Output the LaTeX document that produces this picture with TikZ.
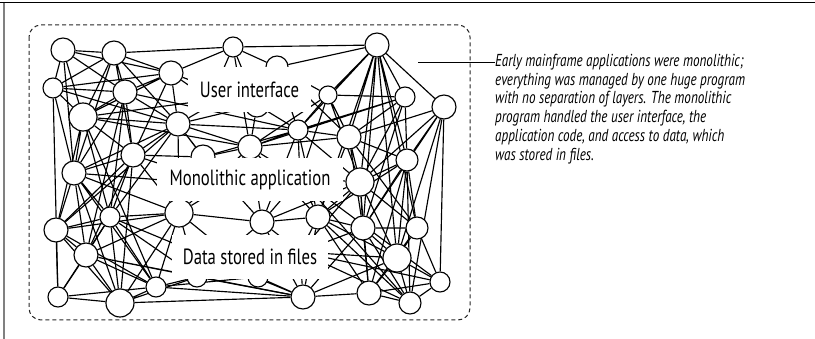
\documentclass[tikz,border=0pt]{standalone}
\usepackage{fontspec}
\setmainfont{PT Sans}
\newfontfamily\condfont{PT Sans}[FakeStretch=0.76]
\usetikzlibrary{positioning}
\pgfdeclarelayer{bg}
\pgfsetlayers{bg,main}

\begin{document}
\begin{tikzpicture}[x=1pt, y=-1pt,
    dot/.style={circle, draw, fill=white, line width=1.15pt, inner sep=0pt, minimum size=#1},
    link/.style={line width=1.15pt},
    layerbox/.style={fill=white, inner sep=0pt, font=\condfont\fontsize{22}{24}\selectfont},
    note/.style={inner sep=0pt, align=left, font=\condfont\itshape\fontsize{17.3}{18.7}\selectfont}
  ]
  \useasboundingbox (0,0) rectangle (815,339);
  % frame
  \draw[line width=1pt] (0,3) -- (815,3);
  \draw[gray, line width=1.5pt] (4,3) -- (4,339);
  % dashed outline round the program
  \draw[dash pattern=on 4pt off 3pt, line width=1pt, black!85, rounded corners=12pt] (29,25) rectangle (470,320);
  % top row
  \node[dot=24pt] (n1) at (63,50) {};
  \node[dot=24pt] (n2) at (114,53) {};
  \node[dot=20pt] (n3) at (233,47) {};
  \node[dot=24pt] (n4) at (377,45) {};
  \node[dot=24pt] (n5) at (171,73) {};
  \node[dot=20pt] (n6) at (53,88) {};
  \node[dot=24pt] (n7) at (125,92) {};
  \node[dot=28pt] (n8) at (83,117) {};
  \node[dot=24pt] (n9) at (178,124) {};
  \node[dot=22pt] (n10) at (277,67) {};
  \node[dot=18pt] (n11) at (328,95) {};
  \node[dot=20pt] (n12) at (405,97) {};
  \node[dot=20pt] (n13) at (298,130) {};
  \node[dot=24pt] (n14) at (349,137) {};
  \node[dot=24pt] (n15) at (444,107) {};
  % middle
  \node[dot=24pt] (n16) at (250,147) {};
  \node[dot=24pt] (n17) at (203,157) {};
  \node[dot=24pt] (n18) at (133,155) {};
  \node[dot=22pt] (n19) at (407,160) {};
  \node[dot=24pt] (n20) at (74,173) {};
  \node[dot=28pt] (n21) at (360,182) {};
  \node[dot=20pt] (n22) at (110,217) {};
  \node[dot=28pt] (n23) at (179,213) {};
  \node[dot=24pt] (n24) at (262,222) {};
  \node[dot=24pt] (n25) at (318,217) {};
  \node[dot=24pt] (n26) at (56,230) {};
  \node[dot=24pt] (n27) at (363,228) {};
  \node[dot=22pt] (n28) at (417,228) {};
  % bottom
  \node[dot=24pt] (n29) at (86,255) {};
  \node[dot=28pt] (n30) at (397,258) {};
  \node[dot=20pt] (n31) at (58,297) {};
  \node[dot=28pt] (n32) at (120,303) {};
  \node[dot=20pt] (n33) at (156,287) {};
  \node[dot=24pt] (n34) at (303,297) {};
  \node[dot=24pt] (n35) at (369,293) {};
  \node[dot=22pt] (n36) at (410,303) {};
  \node[dot=20pt] (n37) at (440,282) {};
  % behind the labels
  \node[dot=24pt] (n38) at (257,105) {};
  \node[dot=20pt] (n39) at (197,277) {};
  \node[dot=20pt] (n40) at (258,277) {};
  \node[dot=24pt] (n41) at (300,178) {};
  \node[dot=24pt] (n42) at (225,185) {};
  \node[dot=20pt] (n43) at (300,252) {};
  \node[dot=20pt] (n44) at (210,100) {};
  % links
  \begin{pgfonlayer}{bg}
    \draw[link] (n1) -- (n2) (n1) -- (n6) (n1) -- (n7) (n1) -- (n8) (n1) -- (n5) (n1) -- (n20);
    \draw[link] (n2) -- (n3) (n2) -- (n5) (n2) -- (n6) (n2) -- (n8) (n2) -- (n9) (n2) -- (n18) (n2) -- (n20) (n2) -- (n7);
    \draw[link] (n3) -- (n4) (n3) -- (n5) (n3) -- (n44) (n3) -- (n38) (n3) -- (n10) (n3) -- (n16);
    \draw[link] (n4) -- (n10) (n4) -- (n11) (n4) -- (n12) (n4) -- (n13) (n4) -- (n14) (n4) -- (n15) (n4) -- (n19) (n4) -- (n21) (n4) -- (n25) (n4) -- (n27) (n4) -- (n30) (n4) -- (n28);
    \draw[link] (n5) -- (n6) (n5) -- (n7) (n5) -- (n8) (n5) -- (n9) (n5) -- (n18) (n5) -- (n44) (n5) -- (n38);
    \draw[link] (n6) -- (n7) (n6) -- (n20) (n6) -- (n31) (n6) -- (n8) (n6) -- (n9);
    \draw[link] (n7) -- (n8) (n7) -- (n9) (n7) -- (n18) (n7) -- (n20) (n7) -- (n13) (n7) -- (n22) (n7) -- (n29);
    \draw[link] (n8) -- (n9) (n8) -- (n18) (n8) -- (n20) (n8) -- (n22) (n8) -- (n26) (n8) -- (n33) (n8) -- (n44) (n8) -- (n16);
    \draw[link] (n9) -- (n18) (n9) -- (n16) (n9) -- (n13) (n9) -- (n17) (n9) -- (n23) (n9) -- (n22) (n9) -- (n20) (n9) -- (n42) (n9) -- (n10) (n9) -- (n38);
    \draw[link] (n10) -- (n11) (n10) -- (n13) (n10) -- (n38) (n10) -- (n14);
    \draw[link] (n11) -- (n12) (n11) -- (n13) (n11) -- (n14) (n11) -- (n16) (n11) -- (n21) (n11) -- (n41);
    \draw[link] (n12) -- (n13) (n12) -- (n14) (n12) -- (n19) (n12) -- (n21) (n12) -- (n27) (n12) -- (n16);
    \draw[link] (n13) -- (n14) (n13) -- (n16) (n13) -- (n21) (n13) -- (n24) (n13) -- (n25) (n13) -- (n38) (n13) -- (n17) (n13) -- (n41);
    \draw[link] (n14) -- (n15) (n14) -- (n19) (n14) -- (n21) (n14) -- (n16) (n14) -- (n27) (n14) -- (n28) (n14) -- (n25);
    \draw[link] (n15) -- (n19) (n15) -- (n21) (n15) -- (n37) (n15) -- (n36) (n15) -- (n30) (n15) -- (n27);
    \draw[link] (n16) -- (n17) (n16) -- (n24) (n16) -- (n25) (n16) -- (n38) (n16) -- (n23) (n16) -- (n42) (n16) -- (n41);
    \draw[link] (n17) -- (n18) (n17) -- (n23) (n17) -- (n24) (n17) -- (n42);
    \draw[link] (n18) -- (n20) (n18) -- (n22) (n18) -- (n23) (n18) -- (n29) (n18) -- (n32) (n18) -- (n26) (n18) -- (n42);
    \draw[link] (n19) -- (n21) (n19) -- (n28) (n19) -- (n30) (n19) -- (n27) (n19) -- (n36) (n19) -- (n35) (n19) -- (n25);
    \draw[link] (n20) -- (n22) (n20) -- (n26) (n20) -- (n29) (n20) -- (n23) (n20) -- (n32) (n20) -- (n33) (n20) -- (n42);
    \draw[link] (n21) -- (n25) (n21) -- (n27) (n21) -- (n28) (n21) -- (n30) (n21) -- (n24) (n21) -- (n35) (n21) -- (n41) (n21) -- (n43);
    \draw[link] (n22) -- (n23) (n22) -- (n26) (n22) -- (n29) (n22) -- (n32) (n22) -- (n33) (n22) -- (n39);
    \draw[link] (n23) -- (n24) (n23) -- (n26) (n23) -- (n29) (n23) -- (n32) (n23) -- (n33) (n23) -- (n39) (n23) -- (n40) (n23) -- (n42);
    \draw[link] (n24) -- (n25) (n24) -- (n40) (n24) -- (n39) (n24) -- (n34) (n24) -- (n41) (n24) -- (n43);
    \draw[link] (n25) -- (n27) (n25) -- (n34) (n25) -- (n35) (n25) -- (n36) (n25) -- (n30) (n25) -- (n41) (n25) -- (n43);
    \draw[link] (n26) -- (n29) (n26) -- (n31) (n26) -- (n32) (n26) -- (n33) (n26) -- (n9);
    \draw[link] (n27) -- (n28) (n27) -- (n30) (n27) -- (n35) (n27) -- (n34) (n27) -- (n36) (n27) -- (n43);
    \draw[link] (n28) -- (n30) (n28) -- (n37) (n28) -- (n35);
    \draw[link] (n29) -- (n31) (n29) -- (n32) (n29) -- (n33) (n29) -- (n34) (n29) -- (n39);
    \draw[link] (n30) -- (n34) (n30) -- (n35) (n30) -- (n36) (n30) -- (n37) (n30) -- (n43);
    \draw[link] (n31) -- (n32) (n31) -- (n33) (n31) -- (n22);
    \draw[link] (n32) -- (n33) (n32) -- (n34) (n32) -- (n39);
    \draw[link] (n33) -- (n34) (n33) -- (n39) (n33) -- (n40);
    \draw[link] (n34) -- (n35) (n34) -- (n40) (n34) -- (n39) (n34) -- (n43) (n34) -- (n22);
    \draw[link] (n35) -- (n36) (n35) -- (n37) (n36) -- (n37);
    \draw[link] (n39) -- (n40) (n40) -- (n43) (n43) -- (n37) (n43) -- (n36) (n41) -- (n36) (n41) -- (n37);
  \end{pgfonlayer}
  % layer labels
  \node[layerbox, minimum width=123pt, minimum height=45pt] (ui) at (249.5,89.5) {User interface};
  \node[layerbox, minimum width=186pt, minimum height=43pt] (app) at (250,179.5) {Monolithic application};
  \node[layerbox, minimum width=156pt, minimum height=44pt] (data) at (250,257) {Data stored in files};
  % annotation
  \node[note, anchor=north west] (note) at (495,54) {Early mainframe applications were monolithic;\\
    everything was managed by one huge program\\
    with no separation of layers. The monolithic\\
    program handled the user interface, the\\
    application code, and access to data, which\\
    was stored in files.};
  \coordinate (lead) at (418,62);
  \draw[line width=0.8pt] (lead) -- (lead -| note.west);
\end{tikzpicture}
\end{document}
